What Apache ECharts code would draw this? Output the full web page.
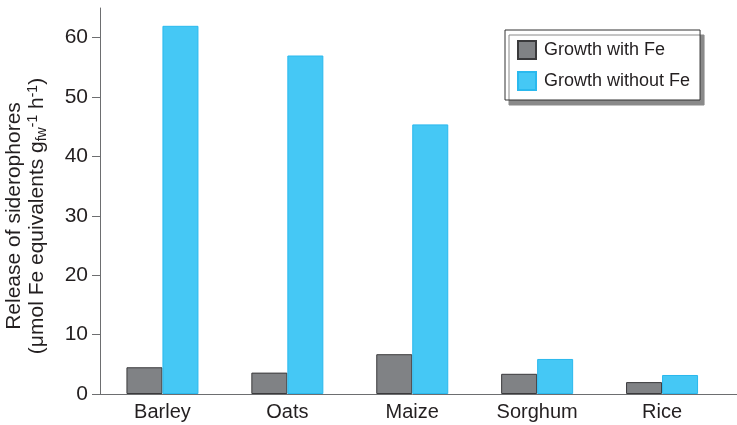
<!DOCTYPE html>
<html>
<head>
<meta charset="utf-8">
<script src="https://cdn.jsdelivr.net/npm/echarts@6/dist/echarts.min.js"></script>
<style>html,body{margin:0;padding:0;background:#fff}#c{width:737px;height:425px}</style>
</head>
<body>
<div id="c"></div>
<script>
const categories = ['Barley', 'Oats', 'Maize', 'Sorghum', 'Rice'];
const withFe = [4.5, 3.6, 6.7, 3.4, 2.0];
const withoutFe = [62, 57, 45.4, 5.9, 3.2];
const yTicks = [0, 10, 20, 30, 40, 50, 60];
const seriesNames = ['Growth with Fe', 'Growth without Fe'];

const FONT = '"Liberation Sans", Arial, sans-serif';
const TXT = '#231f20';
const chart = echarts.init(document.getElementById('c'));
chart.setOption({
  animation: false,
  textStyle: { fontFamily: FONT, color: TXT },
  grid: { left: 100, top: 8, width: 624.5, bottom: 31, containLabel: false },
  legend: {
    orient: 'vertical',
    left: 505, top: 30,
    backgroundColor: '#fff',
    borderColor: '#333',
    borderWidth: 1,
    borderRadius: 0,
    shadowColor: '#8a8a8a',
    shadowOffsetX: 4,
    shadowOffsetY: 5,
    shadowBlur: 0,
    padding: [10, 10, 9, 12],
    itemWidth: 18, itemHeight: 18, itemGap: 11,
    icon: 'rect',
    textStyle: { fontFamily: FONT, fontSize: 18, color: TXT, padding: [0, 0, 0, 3] },
    data: seriesNames
  },
  xAxis: {
    type: 'category',
    data: categories,
    axisLine: { lineStyle: { color: '#6d6e70', width: 1 } },
    axisTick: { show: false },
    axisLabel: { interval: 0, fontFamily: FONT, fontSize: 20, color: TXT, margin: 8 }
  },
  yAxis: {
    type: 'value',
    min: 0, max: 65, interval: 10,
    splitLine: { show: false },
    axisLine: { show: true, lineStyle: { color: '#6d6e70', width: 1 } },
    axisTick: { show: true, length: 8, lineStyle: { color: '#6d6e70' }, customValues: yTicks },
    axisLabel: { fontFamily: FONT, fontSize: 21, color: TXT, margin: 12, customValues: yTicks }
  },
  graphic: [
    { type: 'line', shape: { x1: 724, y1: 394.5, x2: 737, y2: 394.5 }, style: { stroke: '#6d6e70', lineWidth: 1 }, silent: true },
    {
      type: 'text', x: 26, y: 216, rotation: Math.PI / 2,
      style: {
        text: 'Release of siderophores\n(μmol Fe equivalents g{sub|fw}{sup|-1} h{sup|-1})',
        fontFamily: FONT, fontSize: 21, fill: TXT, lineHeight: 23,
        align: 'center', verticalAlign: 'middle',
        rich: {
          sub: { fontSize: 14, fontFamily: FONT, fill: TXT, verticalAlign: 'bottom', lineHeight: 23 },
          sup: { fontSize: 14, fontFamily: FONT, fill: TXT, verticalAlign: 'top', lineHeight: 23 }
        }
      }
    }
  ],
  series: [
    {
      name: seriesNames[0], type: 'bar', data: withFe,
      barWidth: 36, barGap: '0%',
      itemStyle: { color: '#808285', borderColor: '#3a3a3c', borderWidth: 1 }
    },
    {
      name: seriesNames[1], type: 'bar', data: withoutFe,
      barWidth: 36, barGap: '0%',
      itemStyle: { color: '#45c8f5', borderColor: '#2ab9ee', borderWidth: 1 }
    }
  ]
});
</script>
</body>
</html>
